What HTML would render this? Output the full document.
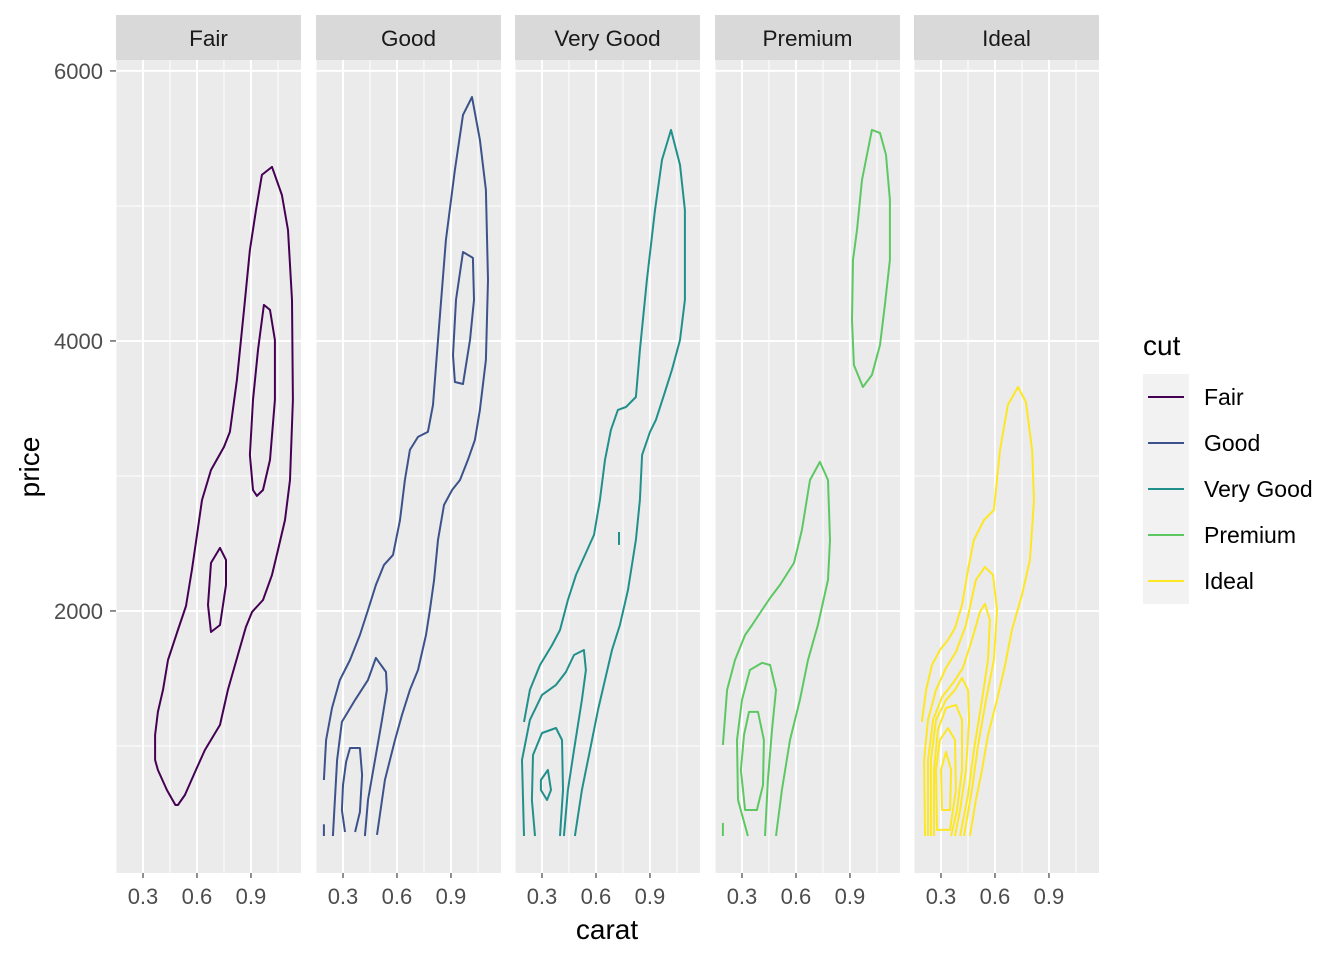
<!DOCTYPE html>
<html><head><meta charset="utf-8"><style>
body{margin:0;background:#fff;}
svg text{font-family:"Liberation Sans",sans-serif;}
</style></head><body>
<svg id="chart" width="1344" height="960" xmlns="http://www.w3.org/2000/svg"></svg>
<script>
const panelNames = ["Fair","Good","Very Good","Premium","Ideal"];
const panelColors = ["#440154","#3B528B","#21908C","#5DC863","#FDE725"];
const xTicks = [0.3,0.6,0.9];
const xMinor = [0.15,0.45,0.75,1.05];
const yTicks = [2000,4000,6000];
const yMinor = [1000,3000,5000];

const fairCarat = [
 [0.48,0.433,0.383,0.367,0.367,0.383,0.411,0.439,0.494,0.539,0.572,0.6,0.628,0.678,0.75,0.783,0.822,0.861,0.894,0.928,0.961,1.017,1.072,1.106,1.128,1.133,1.117,1.089,1.05,1.017,0.967,0.906,0.872,0.811,0.772,0.728,0.644,0.594,0.533,0.494],
 [0.972,0.939,0.911,0.894,0.911,0.933,0.967,1.006,1.033,1.033,1.006],
 [0.678,0.661,0.678,0.728,0.761,0.761,0.728]];
const fairPrice = [
 [563,674,822,896,1081,1252,1415,1637,1859,2037,2304,2563,2822,3044,3215,3326,3711,4230,4674,4970,5230,5289,5081,4822,4304,3563,2970,2674,2452,2267,2081,1993,1881,1600,1415,1156,970,822,637,563],
 [4267,3933,3563,3156,2896,2852,2896,3119,3563,4007,4230],
 [1844,2044,2356,2467,2378,2193,1896]];
const fairClosed = [true,true,true];

const goodCarat = [
 [0.194,0.206,0.239,0.283,0.339,0.394,0.439,0.483,0.528,0.578,0.617,0.644,0.672,0.717,0.772,0.8,0.828,0.872,0.922,0.967,1.017,1.061,1.094,1.106,1.094,1.061,1.033,0.994,0.95,0.906,0.861,0.828,0.806,0.783,0.761,0.717,0.672,0.628,0.589,0.533,0.489],
 [0.967,0.928,0.911,0.922,0.967,1.006,1.028,1.022],
 [0.244,0.267,0.294,0.367,0.439,0.483,0.539,0.544,0.517,0.478,0.439,0.422],
 [0.311,0.294,0.3,0.317,0.339,0.394,0.406,0.394,0.367],
 [0.194,0.194]];
const goodPrice = [
 [748,1044,1281,1489,1637,1822,2007,2193,2341,2415,2674,2970,3193,3289,3326,3526,4007,4748,5267,5674,5807,5489,5119,4452,3859,3489,3267,3119,2970,2896,2785,2526,2230,2007,1822,1563,1415,1230,1044,748,341],
 [4659,4304,3896,3696,3681,4007,4304,4615],
 [333,896,1178,1341,1489,1652,1548,1415,1193,896,600,333],
 [363,526,711,881,985,985,785,511,363],
 [420,333]];
const goodClosed = [false,true,false,false,false];

const vgCarat = [
 [0.2,0.233,0.289,0.356,0.4,0.444,0.489,0.539,0.589,0.622,0.65,0.683,0.722,0.767,0.822,0.844,0.883,0.928,0.967,1.017,1.067,1.094,1.094,1.067,1.022,0.978,0.933,0.9,0.856,0.844,0.822,0.778,0.733,0.689,0.65,0.611,0.567,0.522,0.483],
 [0.2,0.189,0.233,0.3,0.378,0.433,0.478,0.533,0.544,0.522,0.478,0.444,0.422],
 [0.261,0.244,0.25,0.3,0.378,0.411,0.417,0.4],
 [0.294,0.333,0.35,0.328,0.294],
 [0.728,0.728]];
const vgPrice = [
 [1178,1415,1600,1748,1859,2081,2267,2415,2563,2822,3119,3341,3489,3511,3585,3933,4452,4970,5341,5563,5304,4970,4304,4007,3785,3600,3415,3326,3156,2822,2526,2156,1896,1711,1489,1267,970,674,333],
 [333,896,1193,1378,1452,1548,1674,1711,1563,1341,970,674,333],
 [333,600,933,1096,1133,1044,674,333],
 [748,822,674,600,674],
 [2585,2489]];
const vgClosed = [false,false,false,true,false];

const premCarat = [
 [1.022,1.067,1.1,1.122,1.122,1.094,1.067,1.022,0.972,0.922,0.911,0.917,0.939,0.967],
 [0.194,0.217,0.261,0.317,0.356,0.411,0.456,0.511,0.589,0.633,0.678,0.733,0.778,0.789,0.778,0.722,0.667,0.622,0.567,0.522,0.489],
 [0.333,0.278,0.272,0.3,0.344,0.411,0.456,0.489,0.467,0.444,0.428],
 [0.317,0.294,0.311,0.339,0.389,0.422,0.417,0.383],
 [0.194,0.194]];
const premPrice = [
 [5563,5541,5378,5044,4600,4267,3970,3748,3659,3822,4156,4600,4822,5193],
 [1007,1415,1637,1822,1896,2007,2096,2193,2356,2600,2970,3104,2970,2526,2230,1896,1637,1341,1044,674,333],
 [333,600,1044,1341,1563,1615,1600,1415,1119,748,333],
 [526,822,1081,1252,1252,1044,711,526],
 [430,333]];
const premClosed = [true,false,false,true,false];

const idealCarat = [
 [0.194,0.217,0.25,0.294,0.339,0.378,0.417,0.45,0.483,0.539,0.594,0.628,0.672,0.728,0.772,0.806,0.817,0.794,0.75,0.694,0.656,0.611,0.561,0.528,0.494,0.461],
 [0.211,0.206,0.228,0.272,0.328,0.383,0.439,0.494,0.544,0.589,0.611,0.594,0.55,0.506,0.472,0.428],
 [0.228,0.228,0.256,0.306,0.367,0.422,0.472,0.517,0.544,0.572,0.561,0.528,0.483,0.45,0.406],
 [0.244,0.244,0.272,0.328,0.378,0.417,0.45,0.456,0.439,0.406,0.378],
 [0.261,0.261,0.283,0.328,0.383,0.417,0.417,0.389,0.356],
 [0.278,0.272,0.294,0.339,0.378,0.383,0.35],
 [0.306,0.3,0.328,0.356,0.35]];
const idealPrice = [
 [1178,1415,1600,1711,1785,1874,2044,2304,2526,2674,2748,3193,3526,3659,3548,3193,2822,2378,2119,1859,1600,1341,1081,822,600,333],
 [333,896,1193,1415,1578,1696,1896,2230,2326,2267,2007,1637,1341,1007,674,333],
 [333,896,1193,1363,1467,1578,1785,1993,2052,1933,1637,1341,970,637,333],
 [333,896,1193,1341,1415,1504,1415,1193,822,526,333],
 [333,822,1119,1281,1304,1193,822,526,333],
 [378,822,1044,1133,1044,674,378],
 [526,822,956,822,526]];
const idealClosed = [false,false,false,false,false,true,true];

const allCarat = [fairCarat,goodCarat,vgCarat,premCarat,idealCarat];
const allPrice = [fairPrice,goodPrice,vgPrice,premPrice,idealPrice];
const allClosed = [fairClosed,goodClosed,vgClosed,premClosed,idealClosed];

const NS = "http://www.w3.org/2000/svg";
const svg = document.getElementById("chart");
const panelLefts = [116,316,515,715,914];
const panelW = 185, panelTop = 60, panelBot = 873;
const xMin = 0.15, xMax = 1.178, yMin = 59, yMax = 6081;
function xs(p, c){ return panelLefts[p] + (c - xMin) / (xMax - xMin) * panelW; }
function ys(v){ return panelBot - (v - yMin) / (yMax - yMin) * (panelBot - panelTop); }
function mk(tag, attrs, parent){
  const e = document.createElementNS(NS, tag);
  for (const k in attrs) e.setAttribute(k, attrs[k]);
  (parent || svg).appendChild(e);
  return e;
}

for (let p = 0; p < 5; p++) {
  const g = mk("g", {});
  
  
  const bg = mk("rect", {x: panelLefts[p], y: panelTop, width: panelW, height: panelBot - panelTop, fill: "#EBEBEB"}, g);
  
  
  yMinor.forEach(v => { mk("line", {x1: panelLefts[p], x2: panelLefts[p] + panelW, y1: ys(v), y2: ys(v), stroke: "#fff", "stroke-width": 1}, g); });
  xMinor.forEach(v => { mk("line", {x1: xs(p, v), x2: xs(p, v), y1: panelTop, y2: panelBot, stroke: "#fff", "stroke-width": 1}, g); });
  yTicks.forEach(v => { mk("line", {x1: panelLefts[p], x2: panelLefts[p] + panelW, y1: ys(v), y2: ys(v), stroke: "#fff", "stroke-width": 2}, g); });
  xTicks.forEach(v => {
    mk("line", {x1: xs(p, v), x2: xs(p, v), y1: panelTop, y2: panelBot, stroke: "#fff", "stroke-width": 2}, g);
    mk("line", {x1: xs(p, v), x2: xs(p, v), y1: panelBot, y2: panelBot + 5, stroke: "#333", "stroke-width": 1.1}, g);
    const t = mk("text", {x: xs(p, v), y: 904, "text-anchor": "middle", "font-size": 22, fill: "#4D4D4D"}, g);
    t.textContent = v.toFixed(1);
    
    
  });
  const strip = mk("rect", {x: panelLefts[p], y: 15, width: panelW, height: 45, fill: "#D9D9D9"}, g);
  
  
  const st = mk("text", {x: panelLefts[p] + panelW / 2, y: 46, "text-anchor": "middle", "font-size": 22.5, fill: "#1A1A1A"}, g);
  st.textContent = panelNames[p];
  
  
  const cs = allCarat[p], ps = allPrice[p];
  for (let i = 0; i < cs.length; i++) {
    let d = "";
    for (let j = 0; j < cs[i].length; j++) d += (j ? "L" : "M") + xs(p, cs[i][j]).toFixed(1) + "," + ys(ps[i][j]).toFixed(1);
    if (allClosed[p][i]) d += "Z";
    const path = mk("path", {d: d, fill: "none", stroke: panelColors[p], "stroke-width": 2, "stroke-linejoin": "round"}, g);
    
    
  }
}
yTicks.forEach(v => {
  mk("line", {x1: 110, x2: 116, y1: ys(v), y2: ys(v), stroke: "#333", "stroke-width": 1.1});
  const t = mk("text", {x: 103, y: ys(v) + 8, "text-anchor": "end", "font-size": 22, fill: "#4D4D4D"});
  t.textContent = v;
  
  
});
const xt = mk("text", {x: 607, y: 939, "text-anchor": "middle", "font-size": 28, fill: "#000"});
xt.textContent = "carat";


const yt = mk("text", {x: 0, y: 0, "text-anchor": "middle", "font-size": 28, fill: "#000", transform: "translate(39,467) rotate(-90)"});
yt.textContent = "price";



const lt = mk("text", {x: 1143, y: 355, "font-size": 28, fill: "#000"});
lt.textContent = "cut";


for (let i = 0; i < 5; i++) {
  const y0 = 374 + i * 46;
  const key = mk("rect", {x: 1143, y: y0, width: 46, height: 46, fill: "#F2F2F2"});
  
  
  mk("line", {x1: 1148, x2: 1184, y1: y0 + 23, y2: y0 + 23, stroke: panelColors[i], "stroke-width": 2});
  const t = mk("text", {x: 1204, y: y0 + 31, "font-size": 23, fill: "#000"});
  t.textContent = panelNames[i];
  
  
}
</script>
</body></html>
